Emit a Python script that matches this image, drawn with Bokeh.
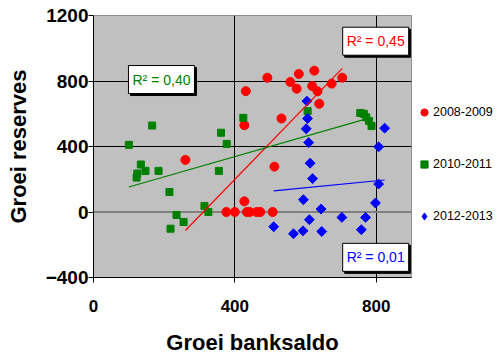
import numpy as np
from bokeh.plotting import figure
from bokeh.layouts import row
from bokeh.models import Range1d, FixedTicker, Span, Label, Legend, LegendItem
from bokeh.embed import file_html
from bokeh.resources import INLINE

# ---- data ----
series_names = ["2008-2009", "2010-2011", "2012-2013"]

red_x = [260, 376, 400, 427, 427, 431, 434, 442, 462, 472, 507, 512, 492, 532, 557, 575, 581, 619, 625, 634, 639, 674, 704]
red_y = [318, 0, 0, 65, 530, 738, 0, 0, 0, 0, 0, 277, 820, 571, 794, 753, 843, 769, 863, 737, 661, 784, 820]

green_x = [100, 122, 124, 134, 147, 166, 184, 215, 218, 235, 255, 314, 325, 355, 361, 377, 424, 606, 755, 765, 772, 780, 787]
green_y = [410, 210, 235, 290, 251, 528, 251, 122, -102, -18, -61, 37, 0, 251, 484, 416, 575, 616, 605, 600, 578, 555, 525]

blue_x = [510, 566, 593, 594, 602, 604, 606, 609, 611, 613, 620, 644, 646, 703, 758, 770, 798, 807, 807, 824]
blue_y = [-90, -133, -115, 75, 508, 677, 571, 424, -47, 298, 204, 18, -119, -33, -108, -33, 55, 171, 398, 512]

r2_texts = ["R\u00b2 = 0,45", "R\u00b2 = 0,40", "R\u00b2 = 0,01"]

x_ticks = [0, 400, 800]
y_ticks = [-400, 0, 400, 800, 1200]

FONT = "Liberation Sans"
RED, GREEN, BLUE = "#ff0000", "#008000", "#0000ff"

p = figure(width=413, height=358, x_range=Range1d(0, 900), y_range=Range1d(-400, 1200),
           output_backend="svg", toolbar_location=None,
           min_border_left=93, min_border_right=2, min_border_top=15, min_border_bottom=81)
p.background_fill_color = "#c0c0c0"
p.border_fill_color = "white"
p.outline_line_color = "#909090"

# grid
p.xgrid.ticker = FixedTicker(ticks=[400, 800])
p.ygrid.ticker = FixedTicker(ticks=[400, 800])
p.xgrid.grid_line_color = "black"
p.ygrid.grid_line_color = "black"
p.add_layout(Span(location=0, dimension="width", line_color="#808080", line_width=2, level="underlay"))

# axes
for ax in (p.xaxis, p.yaxis):
    ax.axis_line_color = "black"
    ax.major_tick_line_color = "black"
    ax.major_tick_out = 5
    ax.major_tick_in = 0
    ax.minor_tick_line_color = None
    ax.major_label_text_font = FONT
    ax.major_label_text_font_style = "bold"
    ax.major_label_text_color = "black"
    ax.axis_label_text_font = FONT
    ax.axis_label_text_font_style = "bold"
    ax.axis_label_text_font_size = "22px"
    ax.axis_label_text_color = "black"
p.xaxis.major_label_text_font_size = "17px"
p.yaxis.major_label_text_font_size = "19px"
p.xaxis.ticker = FixedTicker(ticks=x_ticks)
p.yaxis.ticker = FixedTicker(ticks=y_ticks)
p.xaxis.axis_label = "Groei banksaldo"
p.yaxis.axis_label = "Groei reserves"
p.xaxis.major_label_standoff = 17
p.xaxis.axis_label_standoff = 15
p.yaxis.major_label_standoff = 0
p.yaxis.axis_label_standoff = 12

# points
p.scatter(red_x, red_y, marker="circle", size=9, color=RED)
p.scatter(green_x, green_y, marker="square", size=7, color=GREEN)
p.scatter(blue_x, blue_y, marker="square", size=7, angle=np.pi / 4, color=BLUE)

# trend lines (least squares from data)
for xs, ys, c in ((red_x, red_y, RED), (green_x, green_y, GREEN), (blue_x, blue_y, BLUE)):
    m, b = np.polyfit(xs, ys, 1)
    x0, x1 = min(xs), max(xs)
    p.line([x0, x1], [m * x0 + b, m * x1 + b], line_color=c, line_width=1.2)

# R^2 labels (padding: left, right, top, bottom)
def r2label(text, x, y, color, align):
    common = dict(x=x, y=y, text=text, text_font=FONT, text_font_size="14px",
                  text_align=align, text_baseline="middle", padding=(4, 4, 6, 6),
                  border_line_color="black", border_line_width=1)
    p.add_layout(Label(x_offset=2, y_offset=-2, text_color="black",
                       background_fill_color="black", **common))
    p.add_layout(Label(text_color=color, background_fill_color="white", **common))

r2label(r2_texts[0], 892, 1043, RED, "right")
r2label(r2_texts[1], 99, 809, GREEN, "left")
r2label(r2_texts[2], 892, -277, BLUE, "right")

# legend panel (its renderers use the same series, drawn outside its own view)
q = figure(width=86, height=358, x_range=Range1d(0, 1), y_range=Range1d(0, 1),
           output_backend="svg", toolbar_location=None, x_axis_type=None, y_axis_type=None,
           min_border_left=0, min_border_right=0, min_border_top=0, min_border_bottom=0)
q.outline_line_color = None
q.grid.visible = False
q.background_fill_color = "white"
l1 = q.scatter(red_x, red_y, marker="circle", color=RED)
l2 = q.scatter(green_x, green_y, marker="square", color=GREEN)
l3 = q.scatter(blue_x, blue_y, marker="diamond", color=BLUE)

legend = Legend(items=[LegendItem(label=series_names[0], renderers=[l1]),
                       LegendItem(label=series_names[1], renderers=[l2]),
                       LegendItem(label=series_names[2], renderers=[l3])],
                location=(2, 51), orientation="vertical",
                background_fill_alpha=0, border_line_alpha=0, padding=0, margin=0,
                spacing=32, glyph_height=18, glyph_width=18, label_standoff=0,
                label_height=20, label_text_font=FONT, label_text_font_size="12.5px",
                label_text_color="black")
q.add_layout(legend, "center")

layout = row(p, q)
open("out.html", "w").write(file_html(layout, INLINE))
